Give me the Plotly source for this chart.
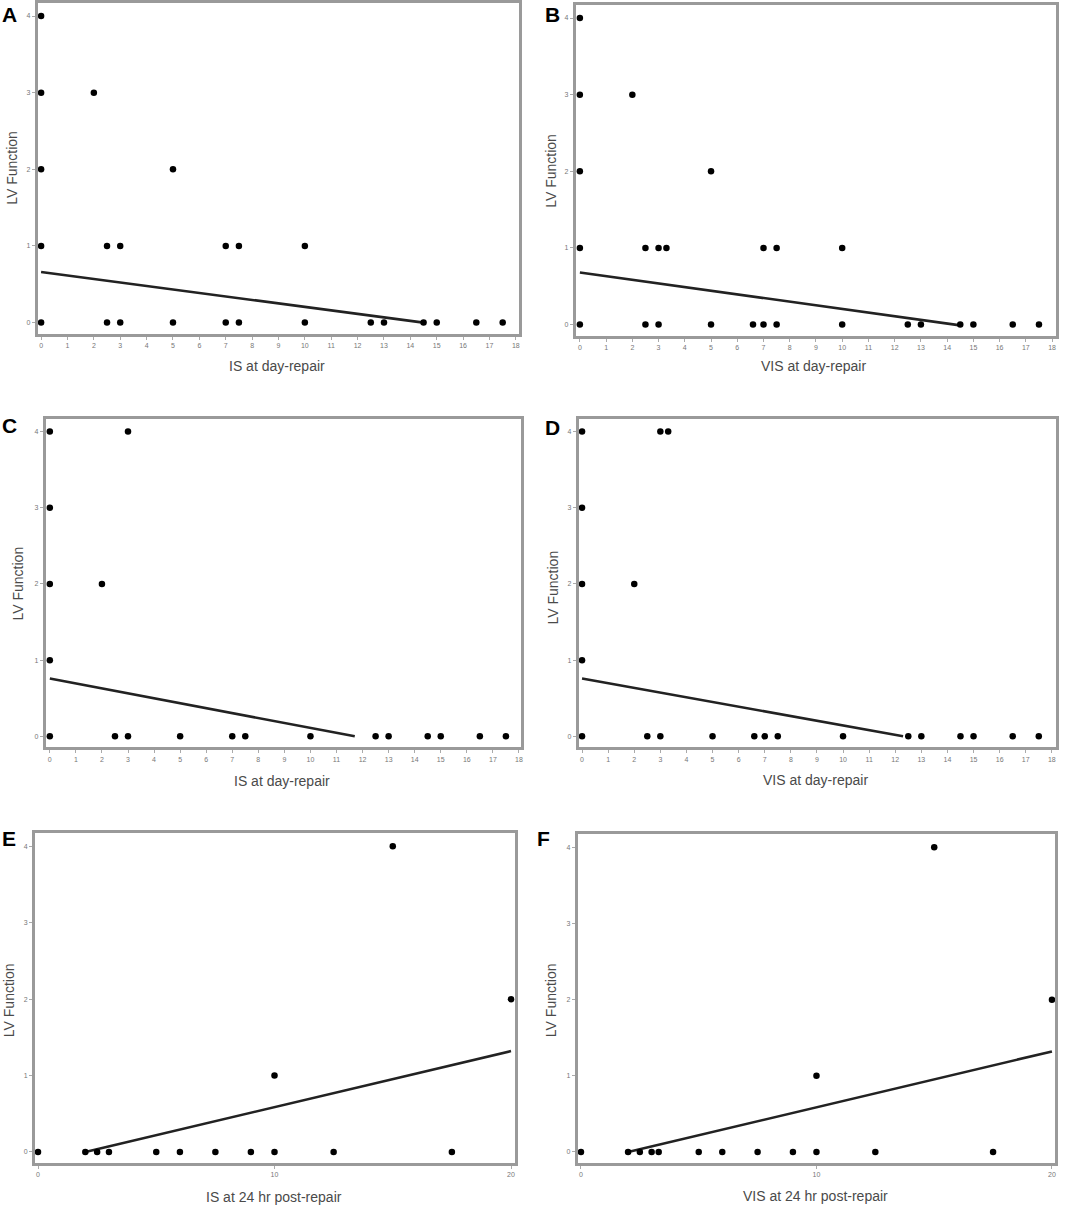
import plotly.graph_objects as go

# ---------------- data ----------------
# Panel A: IS at day-repair
a_x = [0, 0, 2, 0, 5, 0, 2.5, 3, 7, 7.5, 10,
       0, 2.5, 3, 5, 7, 7.5, 10, 12.5, 13, 14.5, 15, 16.5, 17.5]
a_y = [4, 3, 3, 2, 2, 1, 1, 1, 1, 1, 1,
       0, 0, 0, 0, 0, 0, 0, 0, 0, 0, 0, 0, 0]
a_fit_x = [0, 14.5]
a_fit_y = [0.66, 0.0]

# Panel B: VIS at day-repair
b_x = [0, 0, 2, 0, 5, 0, 2.5, 3, 3.3, 7, 7.5, 10,
       0, 2.5, 3, 5, 6.6, 7, 7.5, 10, 12.5, 13, 14.5, 15, 16.5, 17.5]
b_y = [4, 3, 3, 2, 2, 1, 1, 1, 1, 1, 1, 1,
       0, 0, 0, 0, 0, 0, 0, 0, 0, 0, 0, 0, 0, 0]
b_fit_x = [0, 14.5]
b_fit_y = [0.68, -0.01]

# Panel C: IS at day-repair
c_x = [0, 3, 0, 0, 2, 0,
       0, 2.5, 3, 5, 7, 7.5, 10, 12.5, 13, 14.5, 15, 16.5, 17.5]
c_y = [4, 4, 3, 2, 2, 1,
       0, 0, 0, 0, 0, 0, 0, 0, 0, 0, 0, 0, 0]
c_fit_x = [0, 11.7]
c_fit_y = [0.76, 0.0]

# Panel D: VIS at day-repair
d_x = [0, 3, 3.3, 0, 0, 2, 0,
       0, 2.5, 3, 5, 6.6, 7, 7.5, 10, 12.5, 13, 14.5, 15, 16.5, 17.5]
d_y = [4, 4, 4, 3, 2, 2, 1,
       0, 0, 0, 0, 0, 0, 0, 0, 0, 0, 0, 0, 0, 0]
d_fit_x = [0, 12.3]
d_fit_y = [0.76, 0.0]

# Panel E: IS at 24 hr post-repair
e_x = [0, 2, 2.5, 3, 5, 6, 7.5, 9, 10, 12.5, 17.5, 10, 15, 20]
e_y = [0, 0, 0, 0, 0, 0, 0, 0, 0, 0, 0, 1, 4, 2]
e_fit_x = [2, 20]
e_fit_y = [0.0, 1.32]

# Panel F: VIS at 24 hr post-repair
f_x = [0, 2, 2.5, 3, 3.3, 5, 6, 7.5, 9, 10, 12.5, 17.5, 10, 15, 20]
f_y = [0, 0, 0, 0, 0, 0, 0, 0, 0, 0, 0, 0, 1, 4, 2]
f_fit_x = [2, 20]
f_fit_y = [0.0, 1.32]

x_titles = ["IS at day-repair", "VIS at day-repair",
            "IS at day-repair", "VIS at day-repair",
            "IS at 24 hr post-repair", "VIS at 24 hr post-repair"]
y_title = "LV Function"
panel_labels = ["A", "B", "C", "D", "E", "F"]
day_ticks = list(range(0, 19))
hr_ticks = [0, 10, 20]
y_ticks = [0, 1, 2, 3, 4]

# ---------------- layout geometry (pixels) ----------------
W, H = 1067, 1207
# box: left, right, top, bottom
boxes = [(38, 520, 2, 333), (577, 1058, 4, 335),
         (46, 522, 418, 747), (580, 1058, 418, 747),
         (35, 516, 833, 1163), (579, 1057, 834, 1163)]
xranges = [(-0.12, 18.12), (-0.15, 18.15), (-0.15, 18.08), (-0.12, 18.16),
           (-0.13, 20.17), (-0.13, 20.13)]
yrange = (-0.145, 4.17)
label_pos = [(10, 14), (554, 14), (10, 425), (554, 427), (9, 838), (545, 838)]
ytitle_pos = [(12, 167), (552, 170), (18, 583), (554, 587), (9, 1000), (552, 1000)]
xtitle_pos = [(278, 365), (815, 365), (283, 781), (817, 780), (275, 1197), (817, 1196)]

series = [(a_x, a_y, a_fit_x, a_fit_y), (b_x, b_y, b_fit_x, b_fit_y),
          (c_x, c_y, c_fit_x, c_fit_y), (d_x, d_y, d_fit_x, d_fit_y),
          (e_x, e_y, e_fit_x, e_fit_y), (f_x, f_y, f_fit_x, f_fit_y)]

fig = go.Figure()
annotations = []
FONT = "Liberation Sans, Arial, sans-serif"

for i, (sx, sy, fx, fy) in enumerate(series):
    n = "" if i == 0 else str(i + 1)
    xa, ya = "x" + n, "y" + n
    fig.add_trace(go.Scatter(x=fx, y=fy, mode="lines", xaxis=xa, yaxis=ya,
                             line=dict(color="#222222", width=2.6),
                             showlegend=False, hoverinfo="skip"))
    fig.add_trace(go.Scatter(x=sx, y=sy, mode="markers", xaxis=xa, yaxis=ya,
                             marker=dict(color="black", size=6.5),
                             showlegend=False))
    l, r, t, b = boxes[i]
    ticks = day_ticks if i < 4 else hr_ticks
    common = dict(showgrid=False, zeroline=False, showline=True, mirror=True,
                  linecolor="#9a9a9a", linewidth=3, ticks="outside",
                  ticklen=3, tickwidth=1, tickcolor="#aaaaaa",
                  tickfont=dict(size=7, color="#777777", family=FONT))
    fig.layout["xaxis" + n] = dict(domain=[l / W, r / W], range=list(xranges[i]),
                                   anchor=ya, tickvals=ticks, **common)
    fig.layout["yaxis" + n] = dict(domain=[1 - b / H, 1 - t / H], range=list(yrange),
                                   anchor=xa, tickvals=y_ticks, **common)
    lx, ly = label_pos[i]
    annotations.append(dict(text="<b>" + panel_labels[i] + "</b>", x=lx / W, y=1 - ly / H,
                            xref="paper", yref="paper", showarrow=False,
                            xanchor="center", yanchor="middle",
                            font=dict(size=21, color="black", family=FONT)))
    tx, ty = ytitle_pos[i]
    annotations.append(dict(text=y_title, x=tx / W, y=1 - ty / H, textangle=-90,
                            xref="paper", yref="paper", showarrow=False,
                            xanchor="center", yanchor="middle",
                            font=dict(size=14, color="#4a4a4a", family=FONT)))
    tx, ty = xtitle_pos[i]
    annotations.append(dict(text=x_titles[i], x=tx / W, y=1 - ty / H,
                            xref="paper", yref="paper", showarrow=False,
                            xanchor="center", yanchor="middle",
                            font=dict(size=14, color="#4a4a4a", family=FONT)))

fig.update_layout(width=W, height=H, margin=dict(l=0, r=0, t=0, b=0),
                  paper_bgcolor="white", plot_bgcolor="white",
                  annotations=annotations, showlegend=False)

fig.write_html("out.html", config={"displayModeBar": False},
               post_script="document.body.style.margin='0';"
                           "document.body.style.overflow='hidden';")
